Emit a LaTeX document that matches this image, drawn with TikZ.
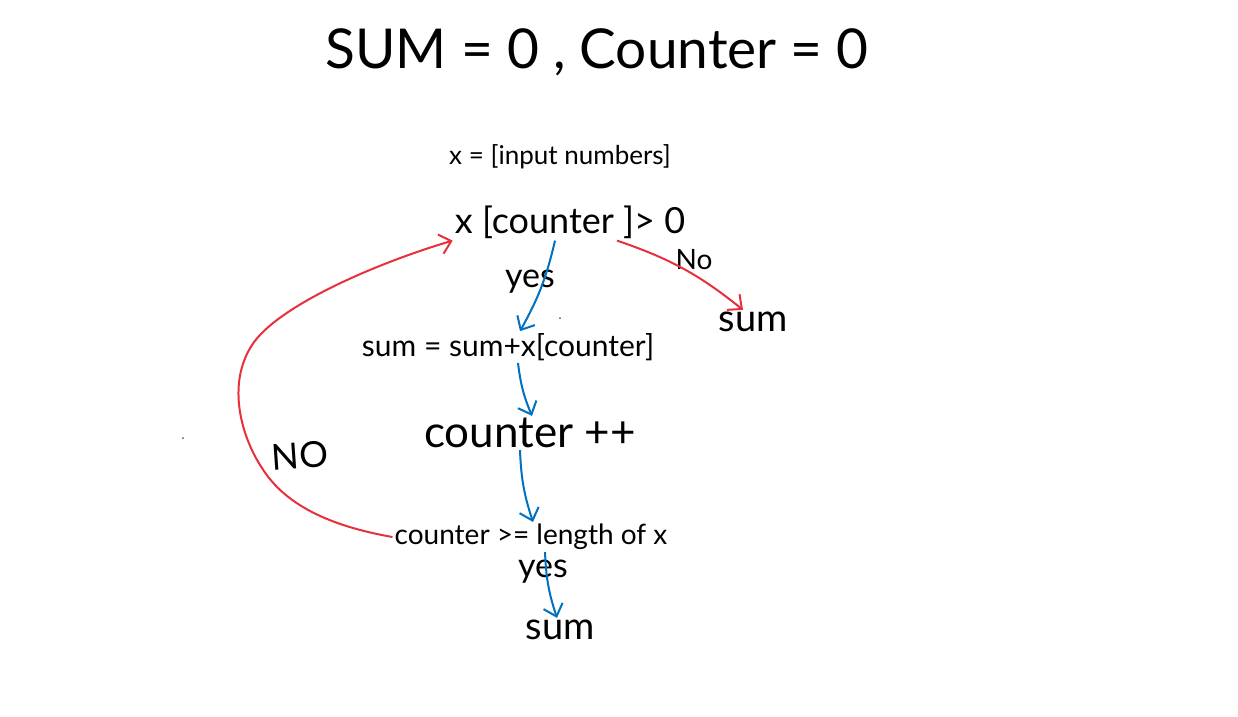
\documentclass[tikz,border=0pt]{standalone}
\usepackage{fontspec}
\setmainfont{Lato}
\usetikzlibrary{arrows.meta}
\usepackage{xcolor}

\definecolor{penblue}{HTML}{0070C0}
\definecolor{penred}{HTML}{E8303C}

\begin{document}
\begin{tikzpicture}[x=1pt,y=-1pt,
  txt/.style={inner sep=2pt,font=\fontsize{#1}{#1}\selectfont},
  yesarrow/.style={penblue,line width=2pt,-{Straight Barb[length=11pt,width=20pt]}},
  noarrow/.style={penred,line width=2pt,-{Straight Barb[length=11pt,width=20pt]}}]

\useasboundingbox (0,0) rectangle (1238,716);
\fill[white] (0,0) rectangle (1238,716);

\node[txt=55] (title) at (597,52) {SUM = 0 , Counter = 0};

\node[txt=26] (input) at (560,157) {x = [input numbers]};
\node[txt=36] (cond) at (570,222) {x [counter ]> 0};
\node[txt=38] (sumr) at (753,322) {sum};
\node[txt=30] (upd) at (508,347) {sum = sum+x[counter]};
\node[txt=44] (inc) at (530,433) {counter ++};
\node[txt=28] (check) at (531,537) {counter >= length of x};
\node[txt=38] (out) at (560,630) {sum};

\node[txt=34] (yes1) at (530,282) {yes};
\node[txt=34] (yes2) at (543,572) {yes};
\node[txt=28] (no1) at (694,260) {No};
\node[txt=36,rotate=4] (no2) at (300,456) {NO};

\draw[yesarrow] ([xshift=-15pt]cond.south) to[bend left=8] ([xshift=12pt]upd.north);
\draw[yesarrow] ([xshift=10pt]upd.south) to[bend right=8] ([xshift=2pt]inc.north);
\draw[yesarrow] ([xshift=-10pt]inc.south) to[bend right=8] ([xshift=2pt]check.north);
\draw[yesarrow] ([xshift=14pt]check.south) to[bend right=8] ([xshift=-3pt]out.north);

\draw[noarrow] ([xshift=47pt]cond.south) to[bend left=10] ([xshift=-10pt]sumr.north);
\draw[noarrow] (check.west) .. controls (330,526) and (285,505) .. (262,468)
  .. controls (242,438) and (226,385) .. (252,345)
  .. controls (278,305) and (380,262) .. (cond.south west);

\fill[penblue] (560,318) circle (1pt);
\fill[penblue] (183,438) circle (1pt);

\end{tikzpicture}
\end{document}
